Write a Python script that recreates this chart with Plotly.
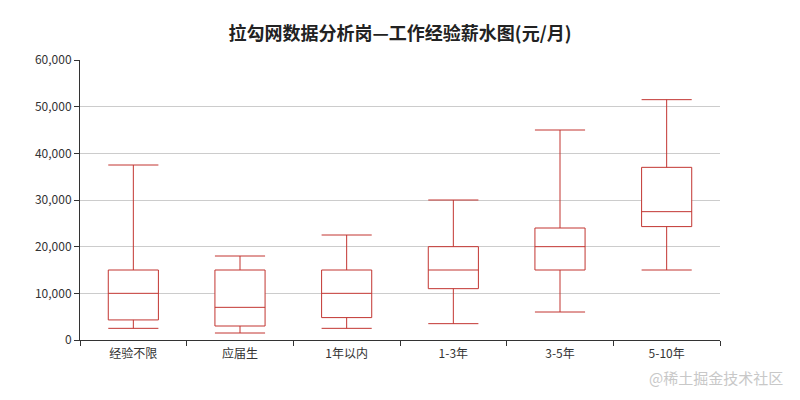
import plotly.graph_objects as go

categories = ["经验不限", "应届生", "1年以内", "1-3年", "3-5年", "5-10年"]
lower = [2500, 1500, 2500, 3500, 6000, 15000]
q1 = [4300, 3000, 4800, 11000, 15000, 24300]
median = [10000, 7000, 10000, 15000, 20000, 27500]
q3 = [15000, 15000, 15000, 20000, 24000, 37000]
upper = [37500, 18000, 22500, 30000, 45000, 51500]
y_ticks = [0, 10000, 20000, 30000, 40000, 50000, 60000]

color = "#c23531"

fig = go.Figure()
fig.add_trace(go.Box(
    x=categories, q1=q1, median=median, q3=q3,
    lowerfence=lower, upperfence=upper,
    fillcolor="white",
    line=dict(color=color, width=1),
    whiskerwidth=1,
    width=0.47,
    boxpoints=False,
    showlegend=False,
))

fig.update_layout(
    width=800, height=400,
    margin=dict(l=80, r=80, t=60, b=60),
    paper_bgcolor="white", plot_bgcolor="white",
    font=dict(family="Noto Sans CJK SC", size=12, color="#333"),
    title=dict(text="<b>拉勾网数据分析岗—工作经验薪水图(元/月)</b>",
               x=0.5, xanchor="center", y=0.917, yanchor="middle",
               font=dict(size=18, color="#222")),
    xaxis=dict(
        type="category", range=[-0.5, len(categories) - 0.5],
        showline=True, linecolor="#333", linewidth=1,
        ticks="outside", ticklen=5, tickcolor="#333", tickson="boundaries",
        ticklabelstandoff=3,
        showgrid=False, tickfont=dict(size=12, color="#333"),
    ),
    yaxis=dict(
        range=[0, 60000], tickvals=y_ticks, tickformat=",",
        showline=True, linecolor="#333", linewidth=1,
        ticks="outside", ticklen=5, tickcolor="#333",
        showgrid=True, gridcolor="#ccc", gridwidth=1,
        zeroline=False, tickfont=dict(size=12, color="#333"),
    ),
    annotations=[dict(
        text="@稀土掘金技术社区", xref="paper", yref="paper",
        x=1.102, y=-0.135, xanchor="right", yanchor="middle", showarrow=False,
        font=dict(size=15, color="#c8c8c8"),
    )],
)

fig.write_html("out.html", config={"displayModeBar": False},
               post_script="document.body.style.margin='0';")
